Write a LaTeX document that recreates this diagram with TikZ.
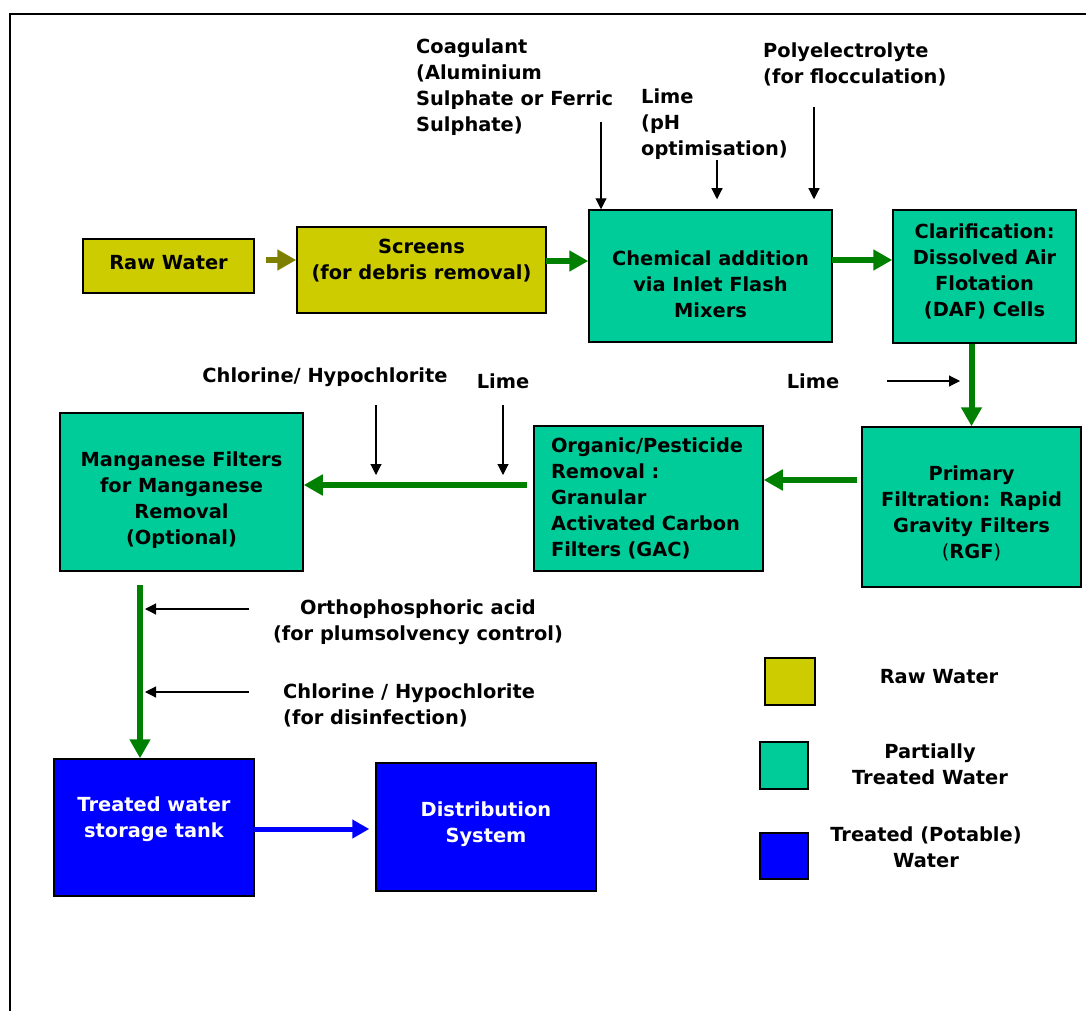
\documentclass[tikz,border=0pt]{standalone}
\usepackage{fontspec}
\setmainfont{DejaVu Sans}
\usetikzlibrary{arrows.meta}
\definecolor{rawc}{HTML}{CCCC00}
\definecolor{partc}{HTML}{00CC99}
\definecolor{treatc}{HTML}{0000FF}
\definecolor{garr}{HTML}{008000}
\definecolor{oarr}{HTML}{808000}
\tikzset{
  every node/.style={font=\fontsize{19.4}{26}\selectfont\bfseries},
  box/.style={draw=black, line width=1.5pt, inner sep=0pt, align=center},
  rawbox/.style={box, fill=rawc},
  partbox/.style={box, fill=partc},
  treatbox/.style={box, fill=treatc, text=white},
  lbl/.style={inner sep=0pt},
  boxtxt/.style={inner sep=0pt, align=center},
  garrow/.style={draw=garr, line width=6pt, -{Triangle[length=19pt,width=20pt]}},
  oarrow/.style={draw=oarr, line width=6pt, -{Triangle[length=19pt,width=20pt]}},
  barrow/.style={draw=treatc, line width=5pt, -{Triangle[length=17pt,width=18pt]}},
  tarrow/.style={draw=black, line width=1.1pt, -{Triangle[length=11pt,width=11pt]}},
}
\begin{document}
\begin{tikzpicture}[x=1pt,y=-1pt]
\useasboundingbox (0,0) rectangle (1086,1011);
% frame
\draw[line width=1.5pt] (10,1011) -- (10,14) -- (1086,14);

% boxes
\node[rawbox, minimum width=171pt, minimum height=54pt,
  label={[boxtxt, name=rawt, yshift=3pt]center:Raw Water}] (raw) at (168.5,266) {};
\node[rawbox, minimum width=249pt, minimum height=86pt,
  label={[boxtxt, name=screenst, yshift=9pt]center:{Screens\\(for debris removal)}}] (screens) at (421.5,270) {};
\node[partbox, minimum width=243pt, minimum height=132pt,
  label={[boxtxt, name=chemt, yshift=-8pt]center:{Chemical addition\\via Inlet Flash\\Mixers}}] (chem) at (710.5,276) {};
\node[partbox, minimum width=183pt, minimum height=133pt,
  label={[boxtxt, name=clart, yshift=5pt]center:{Clarification:\\Dissolved Air\\Flotation\\(DAF) Cells}}] (clar) at (984.5,276.5) {};
\node[partbox, minimum width=219pt, minimum height=160pt,
  label={[boxtxt, name=primaryt, yshift=-6pt]center:{Primary\\Filtration: Rapid\\Gravity Filters\\{\mdseries(}RGF{\mdseries)}}}] (primary) at (971.5,507) {};
\node[partbox, minimum width=229pt, minimum height=145pt,
  label={[boxtxt, name=organict, align=left, text width=195pt]center:{Organic/Pesticide\\Removal :\\Granular\\Activated Carbon\\Filters (GAC)}}] (organic) at (648.5,498.5) {};
\node[partbox, minimum width=243pt, minimum height=158pt,
  label={[boxtxt, name=mangt, yshift=-8pt]center:{Manganese Filters\\for Manganese\\Removal\\(Optional)}}] (mang) at (181.5,492) {};
\node[treatbox, minimum width=200pt, minimum height=137pt,
  label={[boxtxt, text=white, name=treatedt, yshift=8.5pt]center:{Treated water\\storage tank}}] (treated) at (154,827.5) {};
\node[treatbox, minimum width=220pt, minimum height=128pt,
  label={[boxtxt, text=white, name=distt, yshift=3pt]center:{Distribution\\System}}] (dist) at (486,827) {};

% legend
\node[rawbox, minimum width=50pt, minimum height=47pt] (lraw) at (790,681.5) {};
\node[partbox, minimum width=48pt, minimum height=47pt] (lpart) at (784,765.5) {};
\node[treatbox, minimum width=48pt, minimum height=46pt] (ltreat) at (784,856) {};
\node[lbl] (lrawt) at (939,677) {Raw Water};
\node[lbl, align=center] (lpartt) at (930,764) {Partially\\Treated Water};
\node[lbl, align=center] (ltreatt) at (926,847) {Treated (Potable)\\Water};

% chemical labels
\node[lbl, align=left, anchor=west] (coag) at (416,87) {Coagulant\\(Aluminium\\Sulphate or Ferric\\Sulphate)};
\node[lbl, align=left, anchor=west] (limeph) at (641,124) {Lime\\(pH\\optimisation)};
\node[lbl, align=left, anchor=west] (poly) at (763,64.5) {Polyelectrolyte\\(for flocculation)};
\node[lbl] (chlor1) at (325,377) {Chlorine/ Hypochlorite};
\node[lbl] (lime2) at (503,381) {Lime};
\node[lbl] (lime1) at (813,381) {Lime};
\node[lbl, align=center] (ortho) at (418,622) {Orthophosphoric acid\\(for plumsolvency control)};
\node[lbl, align=left, anchor=west] (chlor2) at (283,705) {Chlorine / Hypochlorite\\(for disinfection)};

% main flow
\coordinate (a1) at (266,260);
\draw[oarrow] (a1) -- (a1 -| screens.west);
\coordinate (a2) at (546,261);
\draw[garrow] (a2) -- (a2 -| chem.west);
\coordinate (a3) at (832,260);
\draw[garrow] (a3) -- (a3 -| clar.west);
\draw[garrow] (primary.north |- clar.south) -- (primary.north);
\coordinate (a5) at (857,480);
\draw[garrow] (a5) -- (a5 -| organic.east);
\coordinate (a6) at (527,485);
\draw[garrow] (a6) -- (a6 -| mang.east);
\coordinate (a7) at (140,585);
\draw[garrow] (a7) -- (a7 |- treated.north);
\coordinate (a8) at (254,829);
\draw[barrow, shorten >=6pt] (a8) -- (a8 -| dist.west);

% chemical dosing arrows
\coordinate (c1) at (601,122);
\draw[tarrow] (c1) -- (c1 |- chem.north);
\coordinate (c2) at (717,160);
\draw[tarrow, shorten >=10pt] (c2) -- (c2 |- chem.north);
\coordinate (c3) at (814,107);
\draw[tarrow, shorten >=10pt] (c3) -- (c3 |- chem.north);
\coordinate (c4) at (887,381);
\coordinate (c4e) at (960,381);
\draw[tarrow] (c4) -- (c4e);
\coordinate (c5) at (376,405);
\coordinate (c5e) at (376,475);
\draw[tarrow] (c5) -- (c5e);
\coordinate (c6) at (503,405);
\coordinate (c6e) at (503,475);
\draw[tarrow] (c6) -- (c6e);
\coordinate (c7) at (249,609);
\coordinate (c7e) at (145,609);
\draw[tarrow] (c7) -- (c7e);
\coordinate (c8) at (249,692);
\coordinate (c8e) at (145,692);
\draw[tarrow] (c8) -- (c8e);
\end{tikzpicture}
\end{document}
